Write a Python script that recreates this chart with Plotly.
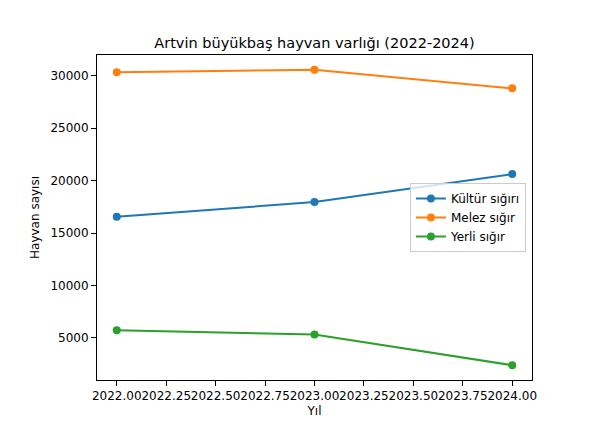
import plotly.graph_objects as go

years = [2022, 2023, 2024]
kultur = [16540, 17950, 20620]
melez = [30340, 30570, 28800]
yerli = [5720, 5310, 2390]
series_names = ["Kültür sığırı", "Melez sığır", "Yerli sığır"]
colors = ["#1f77b4", "#ff7f0e", "#2ca02c"]
x_ticks = [2022.0, 2022.25, 2022.5, 2022.75, 2023.0, 2023.25, 2023.5, 2023.75, 2024.0]
y_ticks = [5000, 10000, 15000, 20000, 25000, 30000]

font = "DejaVu Sans"
fig = go.Figure()
for name, vals, c in zip(series_names, [kultur, melez, yerli], colors):
    fig.add_trace(go.Scatter(x=years, y=vals, name=name, mode="lines+markers",
                             line=dict(color=c, width=2),
                             marker=dict(color=c, size=8)))

axis_common = dict(showline=True, linecolor="black", linewidth=1, mirror=True,
                   ticks="outside", ticklen=5, tickcolor="black", showgrid=False,
                   zeroline=False, automargin=False,
                   tickfont=dict(family=font, size=12, color="black"))

fig.update_layout(
    width=592, height=431,
    margin=dict(l=89, r=68, t=47, b=59),
    plot_bgcolor="white", paper_bgcolor="white",
    font=dict(family=font, size=12, color="black"),
    title=dict(text="Artvin büyükbaş hayvan varlığı (2022-2024)", x=(89 + 435/2)/592, xanchor="center",
               y=1 - 35/431, yanchor="middle", font=dict(family=font, size=14.5, color="black"),
               automargin=False),
    xaxis=dict(range=[2021.9, 2024.1], tickvals=x_ticks, tickangle=0,
               ticktext=[f"{v:.2f}" for v in x_ticks],
               title=dict(text="Yıl", font=dict(family=font, size=12), standoff=4),
               **axis_common),
    yaxis=dict(range=[980, 31980], tickvals=y_ticks, ticktext=[str(v) for v in y_ticks],
               title=dict(text="Hayvan sayısı", font=dict(family=font, size=12), standoff=8),
               **axis_common),
    legend=dict(x=0.986, y=0.5, xanchor="right", yanchor="middle",
                bordercolor="#cccccc", borderwidth=1, bgcolor="rgba(255,255,255,0.8)",
                font=dict(family=font, size=12), itemwidth=30, tracegroupgap=0),
    showlegend=True,
)

fig.write_html("out.html")
